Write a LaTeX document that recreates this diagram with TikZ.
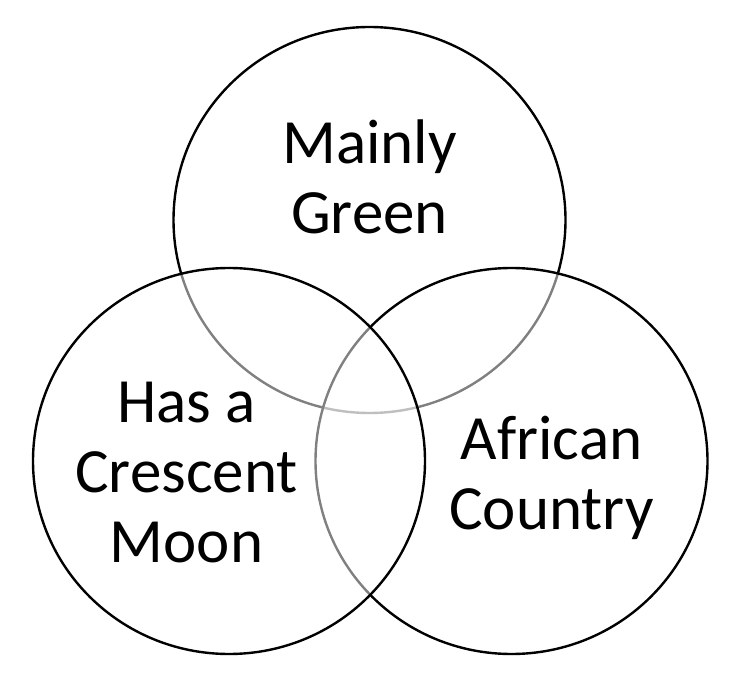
\documentclass[tikz,border=0pt]{standalone}
\usepackage{fontspec}
\setmainfont{Carlito}
\usetikzlibrary{shapes.geometric}

\begin{document}
\begin{tikzpicture}[x=1pt,y=-1pt,
  set/.style={ellipse,draw=black,line width=2.4pt,fill=white,fill opacity=0.5,inner sep=0pt,
    minimum width=392pt,minimum height=386pt},
  lbl/.style={align=center,inner sep=0pt,font=\fontsize{63}{70}\selectfont}]
\useasboundingbox (0,0) rectangle (750,700);
\node[set] (green) at (369.5,220) {};
\node[set] (africa) at (511.5,461) {};
\node[set] (moon) at (229,461) {};
\node[lbl] (green_t) at (369.5,176.5) {Mainly\\Green};
\node[lbl] (moon_t) at (186.5,472.5) {Has a\\Crescent\\Moon};
\node[lbl] (africa_t) at (551.5,478) {African\\Country};
\end{tikzpicture}
\end{document}
